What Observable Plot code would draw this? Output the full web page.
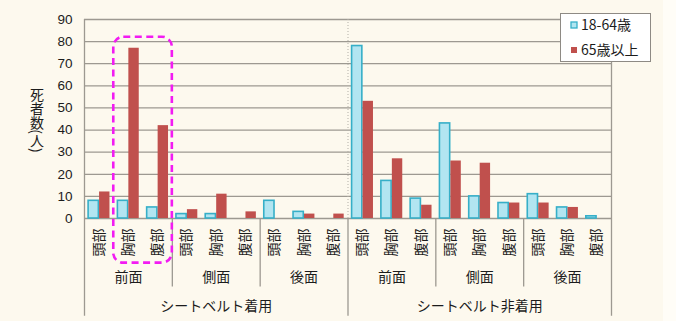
<!DOCTYPE html>
<html>
<head>
<meta charset="utf-8">
<script src="https://cdn.jsdelivr.net/npm/d3@7"></script>
<script src="https://cdn.jsdelivr.net/npm/@observablehq/plot@0.6"></script>
<style>
  html, body { margin: 0; padding: 0; }
  body {
    width: 676px; height: 321px; overflow: hidden;
    background: linear-gradient(to right, #fdf9ee 663px, #fffdf7 663px);
  }
  #chart svg { display: block; }
</style>
</head>
<body>
<div id="chart"></div>
<script>
// Hierarchy of the x axis: belt use → impact side → body part
const beltGroups = ["シートベルト着用", "シートベルト非着用"];
const sides = ["前面", "側面", "後面"];
const parts = ["頭部", "胸部", "腹部"];
const series = ["18-64歳", "65歳以上"];

// Deaths per category, ordered belt group → side → body part
const deathsYoung = [8, 8, 5, 2, 2, 0, 8, 3, 0, 78, 17, 9, 43, 10, 7, 11, 5, 1];
const deathsOld = [12, 77, 42, 4, 11, 3, 0, 2, 2, 53, 27, 6, 26, 25, 7, 7, 5, 0];

const yTicks = [0, 10, 20, 30, 40, 50, 60, 70, 80, 90];
const yLabel = "死者数(人)";

// Dashed frame around 胸部 and 腹部 of 前面 with the belt worn
const highlight = [{from: 1, to: 3, top: 82, bottom: -20.2}];

const cats = d3.range(beltGroups.length * sides.length * parts.length).map(i => ({
  i,
  belt: beltGroups[Math.floor(i / 9)],
  side: sides[Math.floor(i / 3) % 3],
  part: parts[i % 3]
}));
const youngRows = cats.map(c => ({...c, series: series[0], value: deathsYoung[c.i]})).filter(d => d.value > 0);
const oldRows = cats.map(c => ({...c, series: series[1], value: deathsOld[c.i]})).filter(d => d.value > 0);
const sideGroups = cats.filter(c => c.i % 3 === 0);
const beltRows = cats.filter(c => c.i % 9 === 0);

// Each category holds two side-by-side bars
const slot = {[series[0]]: [0.14, 0.49], [series[1]]: [0.515, 0.87]};

const lineColor = "#9d9991";
const textColor = "#1c1c1c";

const chart = Plot.plot({
  width: 676,
  height: 321,
  marginTop: 19,
  marginBottom: 103,
  marginLeft: 84,
  marginRight: 65,
  style: {
    fontFamily: "'Noto Sans CJK JP', sans-serif",
    fontSize: "14px",
    color: textColor,
    background: "transparent",
    overflow: "visible"
  },
  x: {domain: [0, cats.length], axis: null},
  y: {domain: [0, 90], axis: null},
  color: {domain: series, range: ["#b2e5f1", "#c0504d"]},
  marks: [
    Plot.ruleY(yTicks, {stroke: lineColor, strokeWidth: 1.3}),
    Plot.ruleX([beltRows[1].i], {y1: 0, y2: 90, stroke: "#b3afa7", strokeDasharray: "1,2"}),
    Plot.rectY(youngRows, {
      x1: d => d.i + slot[d.series][0],
      x2: d => d.i + slot[d.series][1],
      y1: 0, y2: "value",
      fill: "series", stroke: "#36afc8", strokeWidth: 1.6
    }),
    Plot.rectY(oldRows, {
      x1: d => d.i + slot[d.series][0],
      x2: d => d.i + slot[d.series][1],
      y1: 0, y2: "value",
      fill: "series"
    }),
    // frame edges and group dividers running into the label area
    Plot.ruleX([0, cats.length], {y1: -44.2, y2: 90, stroke: lineColor, strokeWidth: 1.3}),
    Plot.ruleX(beltRows.slice(1), {x: "i", y1: -44.2, y2: 0, stroke: lineColor, strokeWidth: 1.3}),
    Plot.ruleX(sideGroups.filter(c => c.i % 9 !== 0), {x: "i", y1: -31, y2: 0, stroke: lineColor, strokeWidth: 1.3}),
    Plot.axisY({ticks: yTicks, tickSize: 0, tickPadding: 12, label: null,
      fontSize: 13.5, fontFamily: "'Liberation Sans', Arial, sans-serif"}),
    Plot.text(cats, {x: d => d.i + 0.5, y: 0, text: "part", rotate: -90, textAnchor: "end",
      dy: 10, fontSize: 14, fill: textColor}),
    Plot.text(sideGroups, {x: d => d.i + 1.5, y: 0, text: "side", dy: 59, fontSize: 14, fill: textColor}),
    Plot.text(beltRows, {x: d => d.i + 4.5, y: 0, text: "belt", dy: 88, fontSize: 14, fill: textColor}),
    Plot.rect(highlight, {x1: "from", x2: "to", y1: "bottom", y2: "top", rx: 10,
      fill: "none", stroke: "#f21cf2", strokeWidth: 2.6, strokeDasharray: "7,4.5"})
  ]
});

document.getElementById("chart").appendChild(chart);

// Vertical y-axis title and the series key
const svg = d3.select(chart);
const color = chart.scale("color");

svg.append("text")
  .attr("x", 37)
  .attr("y", 120)
  .attr("text-anchor", "middle")
  .style("writing-mode", "vertical-rl")
  .attr("font-size", 14)
  .attr("fill", textColor)
  .text(yLabel);

const legend = svg.append("g").attr("transform", "translate(560.5,13.5)");
legend.append("rect")
  .attr("width", 90).attr("height", 48)
  .attr("fill", "#ffffff").attr("stroke", "#8e8a84");
series.forEach((s, k) => {
  const row = legend.append("g").attr("transform", `translate(10.5,${11.5 + k * 25})`);
  row.append("rect")
    .attr("x", 0).attr("y", -3).attr("width", 6).attr("height", 6)
    .attr("fill", color.apply(s))
    .attr("stroke", k === 0 ? "#36afc8" : "none").attr("stroke-width", 1.3);
  row.append("text")
    .attr("x", 10).attr("dy", "0.35em")
    .attr("text-anchor", "start")
    .attr("font-size", 14).attr("fill", textColor)
    .text(s);
});
</script>
</body>
</html>
